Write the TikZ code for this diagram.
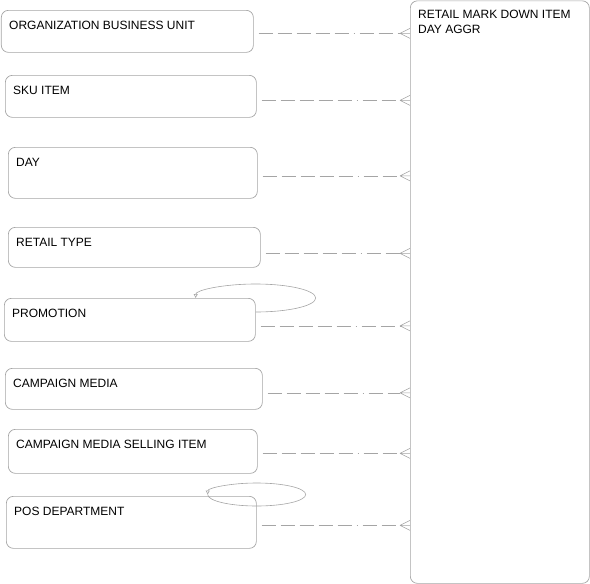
\documentclass[tikz,border=0pt]{standalone}
\usepackage{fontspec}
\setmainfont{Liberation Sans}
\usetikzlibrary{arrows.meta}
\definecolor{ln}{RGB}{165,165,165}
\begin{document}
\begin{tikzpicture}[x=1pt,y=-1pt,
  entity/.style={draw=ln, line width=0.7pt, rounded corners=7pt, anchor=north west, inner sep=0pt, minimum width=#1},
  lbl/.style={anchor=north west, inner sep=0pt, xshift=8pt, yshift=-11pt, font=\fontsize{12}{15}\selectfont, align=left},
  rel/.style={draw=ln, line width=0.6pt, dash pattern=on 14pt off 5pt on 14pt off 5pt on 14pt off 5pt on 14pt off 5pt on 14pt off 5pt on 1pt off 5pt},
  foot/.style={draw=ln, line width=0.6pt},
  selfloop/.style={draw=ln, line width=0.6pt, {Triangle[open,length=4pt,width=4pt]}-}
]
\useasboundingbox (0,0) rectangle (590,584);

\node[entity=252pt, minimum height=42pt, label={[lbl]north west:ORGANIZATION BUSINESS UNIT}] (org) at (1,10) {};
\node[entity=251pt, minimum height=42pt, label={[lbl]north west:SKU ITEM}] (sku) at (5,75) {};
\node[entity=249pt, minimum height=51pt, label={[lbl]north west:DAY}] (day) at (8,147) {};
\node[entity=252pt, minimum height=40pt, label={[lbl]north west:RETAIL TYPE}] (ret) at (8,227) {};
\node[entity=251pt, minimum height=43pt, label={[lbl]north west:PROMOTION}] (promo) at (4,298) {};
\node[entity=257pt, minimum height=41pt, label={[lbl]north west:CAMPAIGN MEDIA}] (cm) at (5,368) {};
\node[entity=249pt, minimum height=44pt, label={[lbl]north west:CAMPAIGN MEDIA SELLING ITEM}] (cmsi) at (8,429) {};
\node[entity=250pt, minimum height=52pt, label={[lbl]north west:POS DEPARTMENT}] (pos) at (6,496) {};

\node[entity=179pt, minimum height=582.5pt, label={[lbl, yshift=2pt]north west:RETAIL MARK DOWN ITEM\\DAY AGGR}] (big) at (410,0.5) {};

% relationship connectors
\foreach \n/\dy in {org/2, sku/4, day/3, ret/6, promo/6, cm/4, cmsi/2, pos/3} {
  \coordinate (s-\n) at ([xshift=5pt,yshift=-\dy pt]\n.east);
  \coordinate (e-\n) at (s-\n -| big.west);
  \draw[rel] (s-\n) -- ([xshift=-10pt]e-\n);
  \draw[foot] ([xshift=-10pt]e-\n) -- (e-\n)
              ([xshift=-10pt]e-\n) -- ([yshift=5pt]e-\n)
              ([xshift=-10pt]e-\n) -- ([yshift=-5pt]e-\n);
}

% self relationships
\draw[selfloop] ([xshift=-60pt]promo.north east) arc[start angle=180, end angle=-90, x radius=60pt, y radius=14pt];
\draw[selfloop] ([xshift=-49pt,yshift=1.5pt]pos.north east) arc[start angle=180, end angle=-180, x radius=49pt, y radius=11.5pt];
\end{tikzpicture}
\end{document}
